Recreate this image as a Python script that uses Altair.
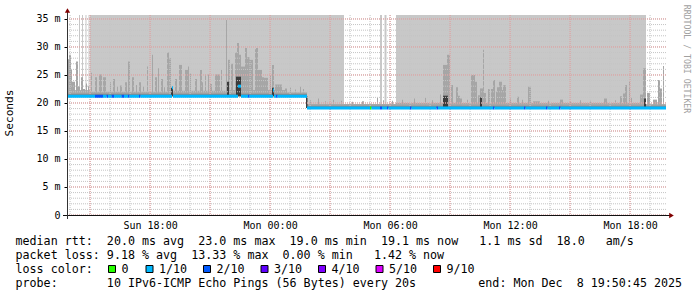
import altair as alt
import pandas as pd

# ---------------- data (time offsets in minutes from graph start) ----------------
START_UTC = "2025-12-07 13:50:45"
END_UTC = "2025-12-08 19:50:45"
Y_MAX = 35.71

# light grey "smoke" columns reaching the top of the graph
BAND_START = [36, 45, 55.5, 64.5, 69, 720, 939, 952.5, 987]
BAND_END = [39, 48, 58.5, 67.5, 720, 831, 945, 958.5, 1737]
BAND_LOW = [21.2, 21.2, 21.2, 21.2, 21.2, 19.1, 19.1, 19.1, 19.1]
BAND_HIGH = [35.71, 35.71, 35.71, 35.71, 35.71, 35.71, 35.71, 35.71, 35.71]

# medium grey floor just above the median
FLOOR_START = [0, 69, 300, 480, 654, 720, 987, 1737]
FLOOR_END = [69, 300, 480, 654, 720, 987, 1737, 1797]
FLOOR_LOW = [21.2, 21.2, 21.2, 21.2, 21.2, 19.1, 19.1, 19.1]
FLOOR_HIGH = [22.3, 22.0, 22.2, 22.3, 21.9, 19.8, 20.0, 19.8]

# darker floor hugging the median
DFLOOR_START = [0, 720]
DFLOOR_END = [720, 1797]
DFLOOR_LOW = [21.2, 19.1]
DFLOOR_HIGH = [21.65, 19.5]

# smoke spikes, first part (median ~21.2 ms)
SPIKE_A_BASE = 21.2
SPIKE_A_START = [0, 6, 12, 15, 27, 33, 42, 48, 57, 63, 72, 84, 96, 108, 129, 138, 150, 159, 174, 183,
                 195, 207, 216, 228, 240, 255, 264, 273, 282, 291, 300, 306, 324, 336, 354, 363, 369,
                 384, 399, 405, 414, 423, 429, 444, 462, 477, 483, 492, 504, 510, 516, 522, 534, 540,
                 549, 564, 567, 573, 585, 591, 609, 615, 624, 654, 669, 684, 699, 708]
SPIKE_A_END = [6, 12, 15, 24, 33, 39, 48, 54, 60, 66, 75, 90, 105, 117, 132, 144, 153, 165, 180, 189,
               201, 210, 222, 231, 243, 258, 270, 276, 288, 294, 306, 312, 330, 345, 363, 366, 372,
               390, 405, 408, 417, 426, 435, 459, 465, 480, 489, 498, 510, 516, 522, 534, 540, 549,
               558, 567, 573, 585, 591, 603, 612, 621, 645, 660, 672, 687, 702, 711]
SPIKE_A_TOP = [27.8, 28.6, 26.0, 23.8, 27.4, 23.0, 24.6, 22.5, 23.5, 23.0, 25.4, 24.6, 25.1, 24.6, 23.7,
               24.3, 23.0, 23.1, 23.7, 27.4, 24.6, 23.2, 23.7, 23.0, 26.5, 28.6, 24.6, 26.2, 24.3, 22.8,
               29.0, 28.0, 24.3, 26.8, 25.9, 26.5, 25.3, 24.3, 25.9, 23.7, 25.1, 25.1, 23.4, 25.1, 25.9,
               34.8, 27.7, 27.0, 29.0, 30.7, 28.6, 26.5, 29.8, 28.2, 27.7, 29.6, 29.8, 25.9, 24.6, 24.5,
               25.0, 26.8, 23.3, 22.6, 22.8, 22.4, 22.9, 22.5]

# smoke spikes, second part (median ~19.1 ms)
SPIKE_B_BASE = 19.1
SPIKE_B_START = [729, 753, 774, 798, 822, 855, 885, 930, 948, 975, 1005, 1041, 1074, 1095, 1119, 1128,
                 1140, 1152, 1167, 1173, 1179, 1200, 1212, 1224, 1233, 1239, 1248, 1251, 1263, 1272,
                 1278, 1287, 1290, 1296, 1305, 1308, 1329, 1350, 1365, 1383, 1398, 1443, 1479, 1509,
                 1539, 1569, 1611, 1644, 1659, 1668, 1674, 1686, 1692, 1719, 1728, 1740, 1758, 1773,
                 1779, 1788]
SPIKE_B_END = [732, 756, 777, 801, 825, 858, 891, 933, 951, 978, 1008, 1044, 1077, 1098, 1122, 1140,
               1149, 1158, 1173, 1179, 1185, 1203, 1224, 1230, 1239, 1248, 1251, 1257, 1269, 1278,
               1284, 1290, 1296, 1305, 1308, 1317, 1332, 1356, 1368, 1392, 1419, 1446, 1488, 1512,
               1542, 1572, 1620, 1647, 1665, 1674, 1680, 1689, 1695, 1728, 1737, 1749, 1770, 1779,
               1785, 1791]
SPIKE_B_TOP = [20.5, 20.8, 20.3, 20.6, 20.4, 20.2, 20.3, 20.9, 20.5, 20.4, 20.6, 20.8, 21.0, 20.5, 21.5,
               26.8, 28.6, 23.2, 22.8, 21.3, 20.8, 20.6, 25.0, 23.8, 21.4, 22.6, 29.5, 21.8, 22.5, 22.5,
               24.1, 22.0, 22.8, 23.8, 22.3, 23.2, 20.8, 21.1, 20.6, 22.9, 20.3, 20.4, 20.6, 20.3,
               20.5, 20.4, 20.8, 20.5, 21.2, 21.7, 23.2, 23.8, 21.0, 21.5, 26.2, 21.8, 20.6, 24.1,
               22.6, 26.6]

# dark smoke near the median
DARK_START = [312, 480, 507, 615, 717, 1128, 1239, 1731]
DARK_END = [318, 486, 522, 621, 721.5, 1143, 1245, 1737]
DARK_LOW = [21.2, 21.2, 21.2, 21.2, 19.1, 19.1, 19.1, 19.1]
DARK_HIGH = [22.7, 23.8, 24.7, 22.7, 21.2, 21.3, 21.0, 20.8]

# median rtt, coloured by packet loss
MED_START = [0, 84, 108, 119, 123, 134, 141, 164, 171, 183, 187.5, 216, 220.5, 315, 318, 513, 522, 543,
             547.5, 618, 621, 627, 631.5, 720, 909, 913.5, 939, 945, 960, 964.5, 1029, 1033.5, 1108.5,
             1113, 1278, 1282.5, 1371, 1375.5, 1437, 1441.5, 1476, 1480.5]
MED_END = [84, 108, 119, 123, 134, 141, 164, 171, 183, 187.5, 216, 220.5, 315, 318, 513, 522, 543,
           547.5, 618, 621, 627, 631.5, 720, 909, 913.5, 939, 945, 960, 964.5, 1029, 1033.5, 1108.5,
           1113, 1278, 1282.5, 1371, 1375.5, 1437, 1441.5, 1476, 1480.5, 1797]
MED_VALUE = [21.2, 21.2, 21.2, 21.2, 21.2, 21.2, 21.2, 21.2, 21.2, 21.2, 21.2, 21.2, 21.2, 22.7, 21.2,
             23.0, 21.2, 21.2, 21.2, 22.3, 21.2, 21.2, 21.2, 19.1, 19.1, 19.1, 19.1, 19.1, 19.1, 19.1,
             19.1, 19.1, 19.1, 19.1, 19.1, 19.1, 19.1, 19.1, 19.1, 19.1, 19.1, 19.1]
MED_LOSS = ["1/10", "2/10", "1/10", "2/10", "1/10", "2/10", "1/10", "2/10", "1/10", "2/10", "1/10",
            "2/10", "1/10", "1/10", "1/10", "1/10", "1/10", "2/10", "1/10", "1/10", "1/10", "2/10",
            "1/10", "1/10", "0", "1/10", "2/10", "1/10", "2/10", "1/10", "2/10", "1/10", "2/10",
            "1/10", "2/10", "1/10", "2/10", "1/10", "2/10", "1/10", "2/10", "1/10"]

LOSS_LABELS = ["0", "1/10", "2/10", "3/10", "4/10", "5/10", "9/10"]
LOSS_COLORS = ["#26ff00", "#00b8ff", "#0059ff", "#5e00ff", "#7e00ff", "#dd00ff", "#ff0000"]

Y_TICKS = [0, 5, 10, 15, 20, 25, 30, 35]
X_TICKS_UTC = ["2025-12-07 18:00", "2025-12-08 00:00", "2025-12-08 06:00", "2025-12-08 12:00",
               "2025-12-08 18:00"]

LINE1 = "median rtt:  20.0 ms avg  23.0 ms max  19.0 ms min  19.1 ms now   1.1 ms sd  18.0   am/s"
LINE2 = "packet loss: 9.18 % avg  13.33 % max  0.00 % min   1.42 % now"
LINE3 = "loss color:"
LINE4 = "probe:       10 IPv6-ICMP Echo Pings (56 Bytes) every 20s"
LINE4_END = "end: Mon Dec  8 19:50:45 2025"
Y_TITLE = "Seconds"
WATERMARK = "RRDTOOL / TOBI OETIKER"

# ---------------- build ----------------
MONO = "DejaVu Sans Mono"


def ms(s):
    return int(pd.Timestamp(s, tz="UTC").value // 10**6)


START_MS = ms(START_UTC)
END_MS = ms(END_UTC)


def to_ms(mins):
    return [START_MS + int(round(m * 60000)) for m in mins]


XS = alt.Scale(type="utc", domain=[START_MS, END_MS])
YS = alt.Scale(domain=[0, Y_MAX], nice=False, zero=False)


def rect_layer(df, color):
    return alt.Chart(df).mark_rect(color=color, strokeWidth=0).encode(
        x=alt.X("t0:T", scale=XS, axis=None),
        x2="t1:T",
        y=alt.Y("lo:Q", scale=YS, axis=None),
        y2="hi:Q",
    )


bands = pd.DataFrame({"t0": to_ms(BAND_START), "t1": to_ms(BAND_END), "lo": BAND_LOW, "hi": BAND_HIGH})
floor = pd.DataFrame({"t0": to_ms(FLOOR_START), "t1": to_ms(FLOOR_END), "lo": FLOOR_LOW, "hi": FLOOR_HIGH})
dfloor = pd.DataFrame({"t0": to_ms(DFLOOR_START), "t1": to_ms(DFLOOR_END), "lo": DFLOOR_LOW, "hi": DFLOOR_HIGH})
spikes = pd.concat([
    pd.DataFrame({"t0": to_ms(SPIKE_A_START), "t1": to_ms(SPIKE_A_END),
                  "lo": [SPIKE_A_BASE] * len(SPIKE_A_TOP), "hi": SPIKE_A_TOP}),
    pd.DataFrame({"t0": to_ms(SPIKE_B_START), "t1": to_ms(SPIKE_B_END),
                  "lo": [SPIKE_B_BASE] * len(SPIKE_B_TOP), "hi": SPIKE_B_TOP}),
], ignore_index=True)
dark = pd.DataFrame({"t0": to_ms(DARK_START), "t1": to_ms(DARK_END), "lo": DARK_LOW, "hi": DARK_HIGH})
median = pd.DataFrame({"t0": to_ms(MED_START), "t1": to_ms(MED_END), "v": MED_VALUE, "loss": MED_LOSS})

# grid positions (axis ticks)
hours = pd.date_range("2025-12-07 14:00", "2025-12-08 19:00", freq="h", tz="UTC")
grid_x_minor = pd.DataFrame({"t": [int(h.value // 10**6) for h in hours]})
grid_x_major = pd.DataFrame({"t": [int(h.value // 10**6) for h in hours if h.hour % 3 == 0]})
grid_y_minor = pd.DataFrame({"v": list(range(0, 36))})
grid_y_major = pd.DataFrame({"v": Y_TICKS})

MINOR_COL = "#c4c4c4"
MAJOR_COL = "#e59a9a"

gy_minor = alt.Chart(grid_y_minor).mark_rule(color=MINOR_COL, strokeDash=[1, 1], strokeWidth=1).encode(
    y=alt.Y("v:Q", scale=YS, axis=None), x=alt.value(0), x2=alt.value(600))
gy_major = alt.Chart(grid_y_major).mark_rule(color=MAJOR_COL, strokeDash=[1, 1], strokeWidth=1).encode(
    y=alt.Y("v:Q", scale=YS, axis=None), x=alt.value(0), x2=alt.value(600))
gx_minor = alt.Chart(grid_x_minor).mark_rule(color=MINOR_COL, strokeDash=[1, 1], strokeWidth=1).encode(
    x=alt.X("t:T", scale=XS, axis=None), y=alt.value(0), y2=alt.value(200))
gx_major = alt.Chart(grid_x_major).mark_rule(color=MAJOR_COL, strokeDash=[1, 1], strokeWidth=1).encode(
    x=alt.X("t:T", scale=XS, axis=None), y=alt.value(0), y2=alt.value(200))

med_layer = alt.Chart(median).mark_rule(strokeWidth=3).encode(
    x=alt.X("t0:T", scale=XS, title=None,
            axis=alt.Axis(orient="bottom", values=[ms(s) for s in X_TICKS_UTC],
                          labelExpr="utcFormat(datum.value, '%a %H:%M')",
                          labelFont=MONO, labelFontSize=10,
                          labelColor="#000", labelPadding=5, ticks=False, domain=False, grid=False,
                          labelFlush=False, labelOverlap=False, title=None)),
    x2="t1:T",
    y=alt.Y("v:Q", scale=YS, title=None,
            axis=alt.Axis(orient="left", values=Y_TICKS,
                          labelExpr="datum.value == 0 ? '0' : datum.value + ' m'",
                          labelFont=MONO, labelFontSize=10, labelColor="#000", labelPadding=4,
                          ticks=True, tickSize=3, tickColor="#000", domain=False, grid=False,
                          title=None)),
    color=alt.Color("loss:N", scale=alt.Scale(domain=LOSS_LABELS, range=LOSS_COLORS), legend=None),
)

one = pd.DataFrame({"k": [0]})
x_axis_line = alt.Chart(one).mark_rule(color="#111", strokeWidth=1).encode(
    x=alt.value(-4), x2=alt.value(604), y=alt.value(200.5))
y_axis_line = alt.Chart(one).mark_rule(color="#333", strokeWidth=1).encode(
    x=alt.value(0.5), y=alt.value(204), y2=alt.value(-3))
arrow_up = alt.Chart(one).mark_point(shape="triangle-up", filled=True, size=28, color="#800000",
                                     opacity=1).encode(x=alt.value(0.5), y=alt.value(-4.5))
arrow_right = alt.Chart(one).mark_point(shape="triangle-right", filled=True, size=28, color="#800000",
                                        opacity=1).encode(x=alt.value(604.5), y=alt.value(200.5))

NB = "\u00a0"


def text_layer(s, x, y, size=11.68, color="#000", angle=0, align="left", baseline="alphabetic"):
    return alt.Chart(one).mark_text(
        font=MONO, fontSize=size, color=color, angle=angle, align=align, baseline=baseline
    ).encode(x=alt.value(x), y=alt.value(y), text=alt.value(s.replace(" ", NB)))


texts = [
    text_layer(LINE1, -51.5, 230),
    text_layer(LINE2, -51.5, 244),
    text_layer(LINE3, -51.5, 258),
    text_layer(LINE4, -51.5, 272),
    text_layer(LINE4_END, 411.3, 272),
    text_layer(Y_TITLE, -57, 98, size=11.2, angle=270, align="center", baseline="middle"),
    text_layer(WATERMARK, 619, 44, size=8.2, color="#a0a0a0", angle=90, align="center",
               baseline="middle"),
]

# loss colour legend (boxes + labels)
legend_text_x = [121.5, 159, 216.5, 274, 331.5, 389, 446.5]
legend_layers = []
for lab, col, tx in zip(LOSS_LABELS, LOSS_COLORS, legend_text_x):
    legend_layers.append(
        alt.Chart(one).mark_square(size=49, filled=True, color=col, stroke="#000", strokeWidth=1,
                                   opacity=1).encode(x=alt.value(tx - 67 - 9.5), y=alt.value(254))
    )
    legend_layers.append(text_layer(lab, tx - 67, 258))

chart = alt.layer(
    rect_layer(bands, "#c8c8c8"),
    rect_layer(floor, "#a8a8a8"),
    rect_layer(spikes, "#a6a6a6"),
    rect_layer(dfloor, "#8a8a8a"),
    rect_layer(dark, "#3c3c3c"),
    gy_minor, gx_minor, gy_major, gx_major,
    med_layer,
    x_axis_line, y_axis_line, arrow_up, arrow_right,
    *texts,
    *legend_layers,
).resolve_axis(
    x="independent", y="independent"
).properties(
    width=600, height=200,
    padding={"left": 67, "top": 15, "right": 30, "bottom": 82},
    autosize=alt.AutoSizeParams(type="none"),
    background="#ffffff",
).configure_view(stroke=None)

chart.save("out.html", embed_options={"renderer": "svg", "actions": False})
